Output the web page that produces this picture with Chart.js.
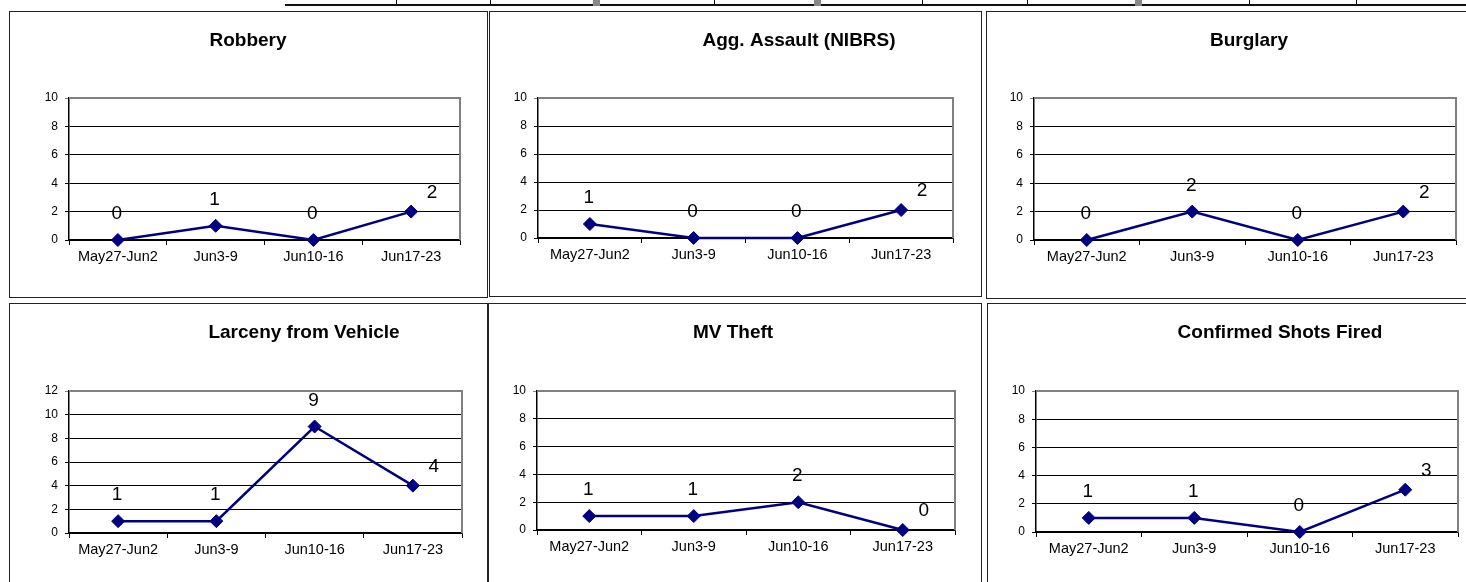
<!DOCTYPE html>
<html>
<head>
<meta charset="utf-8">
<script src="https://cdn.jsdelivr.net/npm/chart.js@4.4.1/dist/chart.umd.min.js"></script>
<style>
    body { margin: 0; background: #fff; width: 1466px; height: 582px; overflow: hidden; position: relative; font-family: "Liberation Sans", Arial, sans-serif; }
    .painel { position: absolute; border: 1px solid #222; box-sizing: border-box; background: #fff; }
    .painel canvas { position: absolute; left: 0; top: 0; }
    .faixa { position: absolute; background: #111; }
    .cinza { position: absolute; background: #888; }
</style>
</head>
<body>

<div class="faixa" style="left:285px; top:4px; width:1181px; height:2px;"></div>
<div id="topo"></div>

<div class="painel" id="p0"><canvas id="c0"></canvas></div>
<div class="painel" id="p1"><canvas id="c1"></canvas></div>
<div class="painel" id="p2"><canvas id="c2"></canvas></div>
<div class="painel" id="p3"><canvas id="c3"></canvas></div>
<div class="painel" id="p4"><canvas id="c4"></canvas></div>
<div class="painel" id="p5"><canvas id="c5"></canvas></div>

<script>
// dados
const semanas = ['May27-Jun2', 'Jun3-9', 'Jun10-16', 'Jun17-23'];

const roubo = [0, 1, 0, 2];
const agressao = [1, 0, 0, 2];
const arrombamento = [0, 2, 0, 2];
const furtoVeiculo = [1, 1, 9, 4];
const rouboVeiculo = [1, 1, 2, 0];
const disparos = [1, 1, 0, 3];

const titulos = ['Robbery', 'Agg. Assault (NIBRS)', 'Burglary', 'Larceny from Vehicle', 'MV Theft', 'Confirmed Shots Fired'];
const series = [roubo, agressao, arrombamento, furtoVeiculo, rouboVeiculo, disparos];
const maximos = [10, 10, 10, 12, 10, 10];

// layout em coordenadas da pagina
const caixas = [
    {x: 9, y: 11, w: 479, h: 287, pl: 69, pt: 98, pr: 460, pb: 240, tx: 248, ty: 41},
    {x: 489, y: 11, w: 493, h: 286, pl: 538, pt: 98, pr: 953, pb: 238, tx: 799, ty: 41},
    {x: 986, y: 11, w: 490, h: 288, pl: 1034, pt: 98, pr: 1456, pb: 240, tx: 1249, ty: 41},
    {x: 9, y: 303, w: 479, h: 290, pl: 69, pt: 391, pr: 462, pb: 533, tx: 304, ty: 333},
    {x: 488, y: 303, w: 494, h: 290, pl: 537, pt: 391, pr: 955, pb: 530, tx: 733, ty: 333},
    {x: 987, y: 303, w: 490, h: 290, pl: 1036, pt: 391, pr: 1458, pb: 532, tx: 1280, ty: 333}
];

// tracinhos da tabela no topo
const linhasTopo = [396, 490, 714, 922, 1027, 1249, 1356];
const blocosTopo = [596, 817, 1138];
let topo = '';
linhasTopo.forEach(x => topo += `<div class="faixa" style="left:${x}px; top:0; width:1px; height:5px;"></div>`);
blocosTopo.forEach(x => topo += `<div class="cinza" style="left:${x - 3}px; top:0; width:7px; height:6px;"></div>`);
document.getElementById('topo').innerHTML = topo;

const LARG_Y = 40;
const ALT_X = 40;

const pluginTitulo = {
    id: 'tituloPainel',
    afterDraw(chart, args, opts) {
        const ctx = chart.ctx;
        ctx.save();
        ctx.font = 'bold 19px "Liberation Sans", Arial, sans-serif';
        ctx.fillStyle = '#000';
        ctx.textAlign = 'center';
        ctx.textBaseline = 'middle';
        ctx.fillText(opts.texto, opts.x, opts.y);
        ctx.restore();
    }
};

const pluginMoldura = {
    id: 'moldura',
    beforeDatasetsDraw(chart) {
        const a = chart.chartArea;
        const ctx = chart.ctx;
        ctx.save();
        ctx.strokeStyle = '#808080';
        ctx.lineWidth = 2;
        ctx.beginPath();
        ctx.moveTo(a.left, a.top);
        ctx.lineTo(a.right, a.top);
        ctx.lineTo(a.right, a.bottom);
        ctx.stroke();
        ctx.restore();
    }
};

const pluginRotulos = {
    id: 'rotulos',
    afterDatasetsDraw(chart) {
        const ctx = chart.ctx;
        const meta = chart.getDatasetMeta(0);
        const valores = chart.data.datasets[0].data;
        ctx.save();
        ctx.font = '19px "Liberation Sans", Arial, sans-serif';
        ctx.fillStyle = '#000';
        ctx.textAlign = 'center';
        ctx.textBaseline = 'middle';
        meta.data.forEach((p, i) => {
            const ultimo = i === valores.length - 1;
            const dx = ultimo ? 21 : -1;
            const dy = ultimo ? -19 : -26;
            ctx.fillText(String(valores[i]), p.x + dx, p.y + dy);
        });
        ctx.restore();
    }
};

function montarGrafico(i) {
    const c = caixas[i];
    const painel = document.getElementById('p' + i);
    painel.style.left = c.x + 'px';
    painel.style.top = c.y + 'px';
    painel.style.width = c.w + 'px';
    painel.style.height = c.h + 'px';

    const esq = c.x + 1, cima = c.y + 1;
    const larg = c.w - 2, alt = c.h - 2;
    const canvas = document.getElementById('c' + i);
    canvas.width = larg;
    canvas.height = alt;

    const padding = {
        left: c.pl - esq - LARG_Y,
        top: c.pt - cima,
        right: esq + larg - c.pr,
        bottom: cima + alt - c.pb - ALT_X
    };

    const max = maximos[i];

    new Chart(canvas.getContext('2d'), {
        type: 'line',
        data: {
            labels: semanas,
            datasets: [{
                data: series[i],
                borderColor: '#000080',
                backgroundColor: '#000080',
                borderWidth: 2.5,
                pointStyle: 'rectRot',
                pointRadius: 6.5,
                pointBorderWidth: 1,
                pointBackgroundColor: '#000080',
                pointBorderColor: '#000080',
                tension: 0,
                clip: false
            }]
        },
        options: {
            responsive: false,
            animation: false,
            devicePixelRatio: 1,
            layout: { padding: padding },
            plugins: {
                legend: { display: false },
                tooltip: { enabled: false },
                tituloPainel: { texto: titulos[i], x: c.tx - esq, y: c.ty - cima }
            },
            scales: {
                x: {
                    offset: true,
                    afterFit: s => { s.height = ALT_X; },
                    grid: { offset: true, drawOnChartArea: false, color: '#000', tickLength: 5, lineWidth: 1 },
                    border: { color: '#000', width: 1.5 },
                    ticks: { color: '#000', padding: 3, maxRotation: 0, font: { family: '"Liberation Sans", Arial, sans-serif', size: 14.5 } }
                },
                y: {
                    min: 0,
                    max: max,
                    afterFit: s => { s.width = LARG_Y; },
                    grid: {
                        color: ctx => ctx.tick && ctx.tick.value === max ? '#808080' : '#000',
                        tickLength: 4,
                        lineWidth: 1
                    },
                    border: { color: '#000', width: 1.5 },
                    ticks: { stepSize: 2, color: '#000', padding: 7, font: { family: '"Liberation Sans", Arial, sans-serif', size: 12 } }
                }
            }
        },
        plugins: [pluginMoldura, pluginRotulos, pluginTitulo]
    });
}

for (let i = 0; i < 6; i++) {
    montarGrafico(i);
}
</script>
</body>
</html>
